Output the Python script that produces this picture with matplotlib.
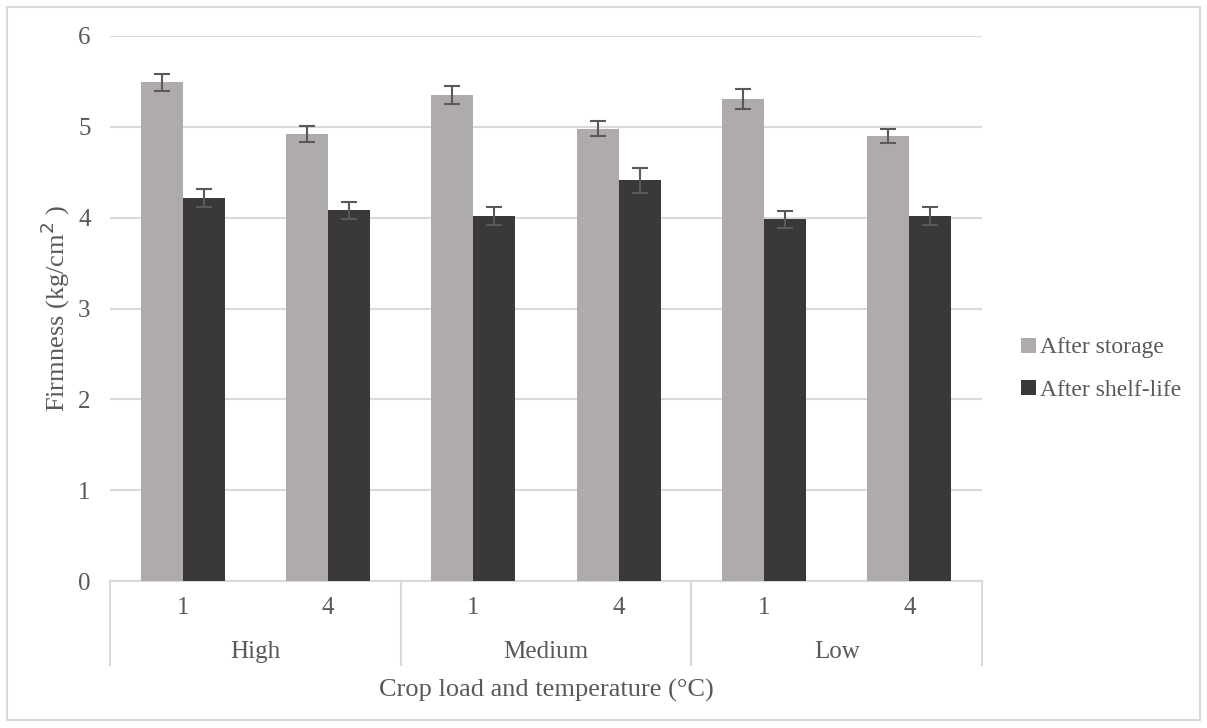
import numpy as np
import matplotlib.pyplot as plt
from matplotlib.patches import Rectangle
from matplotlib.transforms import blended_transform_factory

# data
loads = ['High', 'Medium', 'Low']
temps = ['1', '4', '1', '4', '1', '4']
after_storage = [5.49, 4.92, 5.35, 4.98, 5.31, 4.90]
storage_err = [0.09, 0.09, 0.10, 0.08, 0.11, 0.08]
after_shelf = [4.22, 4.08, 4.02, 4.41, 3.98, 4.02]
shelf_err = [0.10, 0.09, 0.10, 0.14, 0.09, 0.10]

plt.rcParams['font.family'] = ['Liberation Serif', 'DejaVu Serif']
txt = '#595959'
grid = '#D9D9D9'

fig = plt.figure(figsize=(12.07, 7.28), dpi=100)
ax = fig.add_axes([110/1207, 1-581/728, 872/1207, 545/728])

x = np.arange(len(temps))
w = 0.29
ax.bar(x - w/2, after_storage, w, color='#AFABAB', label='After storage', zorder=3)
ax.bar(x + w/2, after_shelf, w, color='#3A3838', label='After shelf-life', zorder=3)
ax.errorbar(x - w/2, after_storage, yerr=storage_err, fmt='none', ecolor=txt,
            elinewidth=1.5, capsize=6, capthick=1.5, zorder=4)
ax.errorbar(x + w/2, after_shelf, yerr=shelf_err, fmt='none', ecolor=txt,
            elinewidth=1.5, capsize=6, capthick=1.5, zorder=4)

ax.set_xlim(-0.5, 5.5)
ax.set_ylim(0, 6)
ax.set_yticks(range(7))
ax.yaxis.grid(True, color=grid, linewidth=1.5, zorder=0)
for s in ['top', 'right', 'left']:
    ax.spines[s].set_visible(False)
ax.spines['bottom'].set_color(grid)
ax.spines['bottom'].set_linewidth(1.5)
ax.tick_params(axis='y', length=0, pad=14, labelsize=18, labelcolor=txt)
ax.set_xticks([])

# two-level category axis
tr = blended_transform_factory(ax.transData, ax.transAxes)
axh = 545
for xb in [-0.5, 1.5, 3.5, 5.5]:
    ax.plot([xb, xb], [0, -84/axh], color=grid, lw=1.5, transform=tr, clip_on=False)
for xi, t in zip(x, temps):
    ax.text(xi, -27/axh, t, transform=tr, ha='center', va='center', fontsize=18, color=txt)
for i, g in enumerate(loads):
    ax.text(2*i + 0.5, -71/axh, g, transform=tr, ha='center', va='center', fontsize=18, color=txt)

ax.text(2.5, -109/axh, 'Crop load and temperature (°C)', transform=tr, ha='center',
        va='center', fontsize=19, color=txt)
fig.text(55/1207, 1-309/728, 'Firmness (kg/cm$^2$ )', rotation=90, ha='center',
         va='center', fontsize=19, color=txt)

leg = ax.legend(loc='center left', bbox_to_anchor=(1012/1207, 1-369/728),
                bbox_transform=fig.transFigure, frameon=False, fontsize=17,
                handlelength=0.6, handleheight=0.6, handletextpad=0.2,
                labelspacing=0.9, borderaxespad=0)
for t in leg.get_texts():
    t.set_color(txt)

fig.patches.append(Rectangle((7/1207, 8/728), 1193/1207, 713/728, transform=fig.transFigure,
                             fill=False, edgecolor=grid, linewidth=1.5))

fig.savefig('out.png', dpi=100)
